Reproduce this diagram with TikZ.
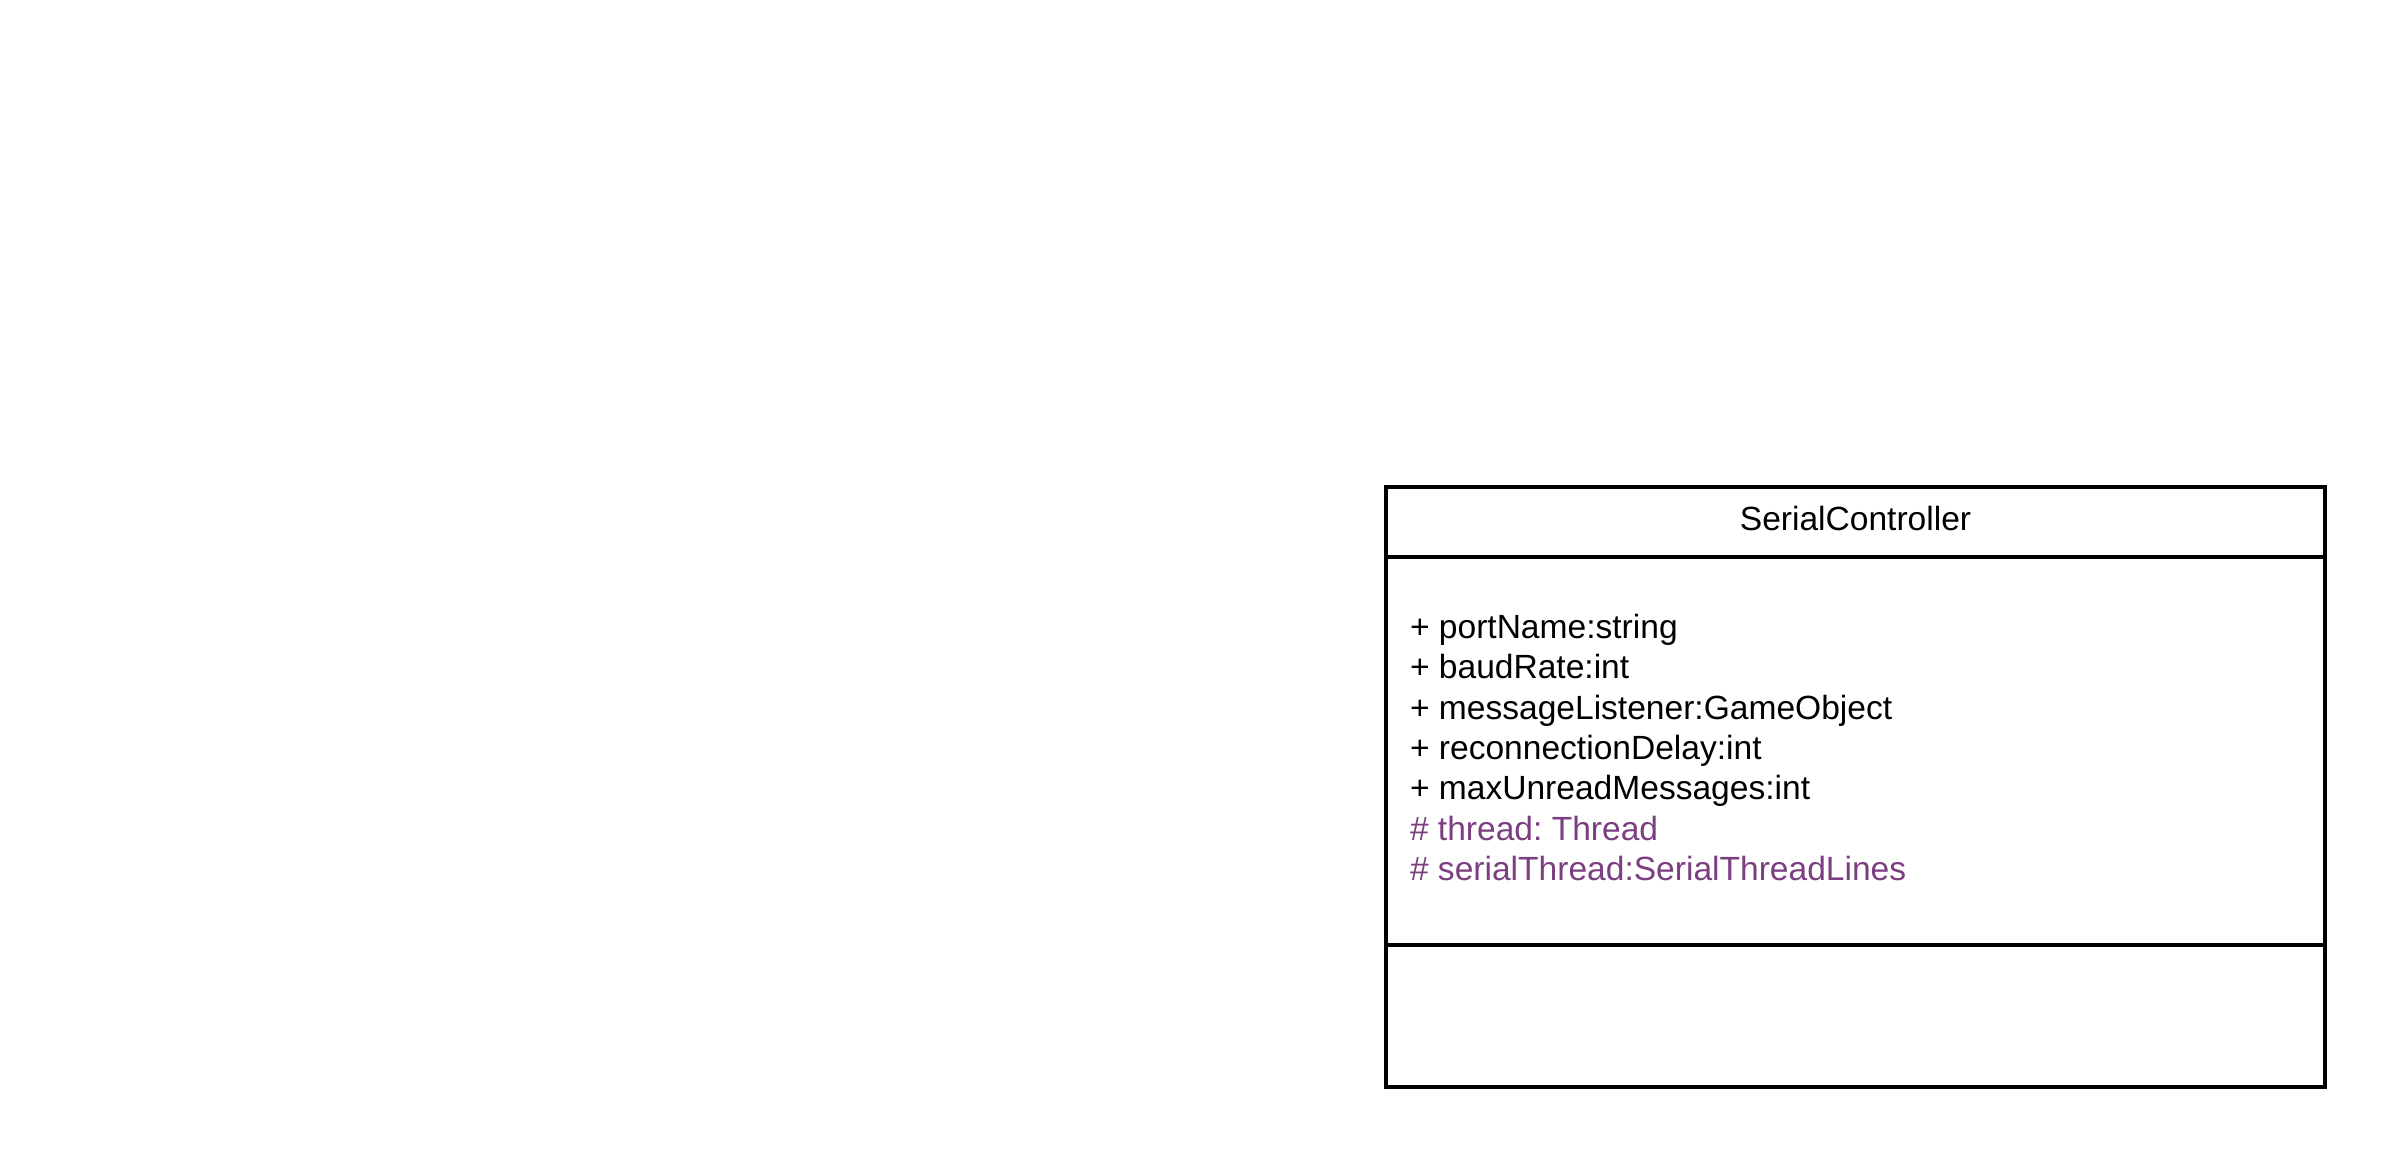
\documentclass[tikz,border=0pt]{standalone}
\usepackage{fontspec}
\setmainfont{Liberation Sans}
\usetikzlibrary{positioning}
\definecolor{protcol}{RGB}{123,62,128}
\frenchspacing

\begin{document}
\begin{tikzpicture}[node distance=0pt, line width=1.05pt,
    every node/.style={inner sep=0pt, outer sep=0pt},
    part/.style={draw, rectangle, minimum width=9.39cm},
    txt/.style={font=\fontsize{9.55}{11.5}\selectfont}]
  \useasboundingbox (0,0) rectangle (24,11.63);
  \node (head) [part, anchor=north, minimum height=0.70cm, text height=5.1pt, txt] at (18.555,6.76) {SerialController};
  \node (attrs) [part, below=of head, minimum height=3.88cm] {};
  \node (ops) [part, below=of attrs, minimum height=1.42cm] {};
  \node (attrtext) [txt, align=left, anchor=west, yshift=0.035cm] at ([xshift=0.24cm]attrs.west) {+ portName:string\\
    + baudRate:int\\
    + messageListener:GameObject\\
    + reconnectionDelay:int\\
    + maxUnreadMessages:int\\
    {\color{protcol}\# thread: Thread}\\
    {\color{protcol}\# serialThread:SerialThreadLines}};
\end{tikzpicture}
\end{document}
